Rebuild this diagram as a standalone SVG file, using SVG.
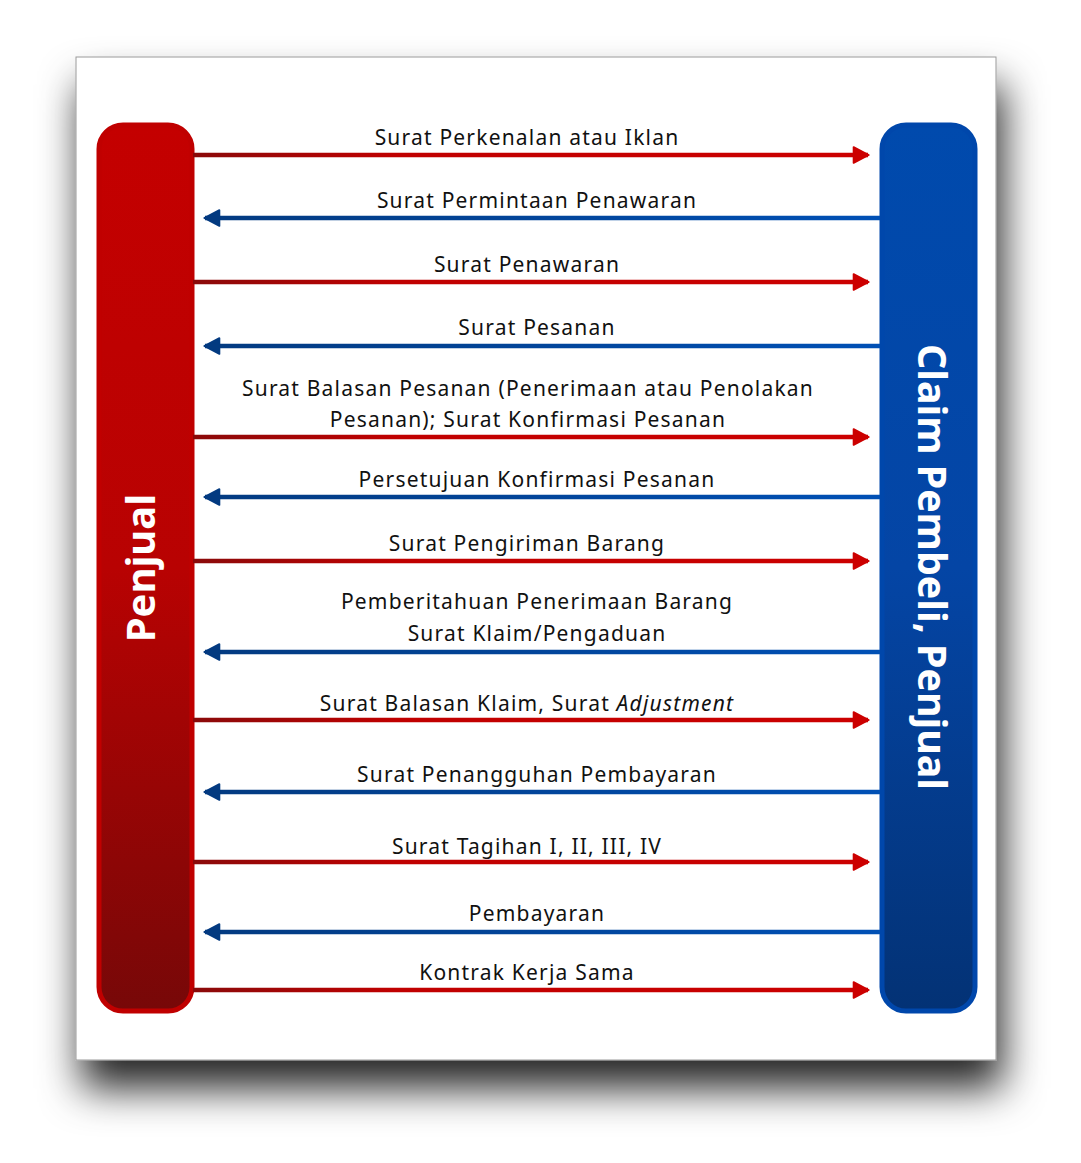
<svg xmlns="http://www.w3.org/2000/svg" width="1081" height="1163" viewBox="0 0 1081 1163">
<defs>
<filter id="pshadow" x="-10%" y="-10%" width="125%" height="125%">
<feDropShadow dx="6" dy="28" stdDeviation="20" flood-color="#000" flood-opacity="0.85"/>
</filter>
<linearGradient id="gRed" x1="0" y1="0" x2="0" y2="1">
<stop offset="0" stop-color="#c40000"/><stop offset="0.5" stop-color="#b80202"/><stop offset="1" stop-color="#770808"/>
</linearGradient>
<linearGradient id="gBlue" x1="0" y1="0" x2="0" y2="1">
<stop offset="0" stop-color="#004aad"/><stop offset="0.5" stop-color="#0445a5"/><stop offset="1" stop-color="#033275"/>
</linearGradient>
<linearGradient id="lRed" gradientUnits="userSpaceOnUse" x1="193" y1="0" x2="870" y2="0">
<stop offset="0" stop-color="#8a0a0a"/><stop offset="0.3" stop-color="#c00000"/><stop offset="1" stop-color="#cc0000"/>
</linearGradient>
<linearGradient id="lBlue" gradientUnits="userSpaceOnUse" x1="203" y1="0" x2="880" y2="0">
<stop offset="0" stop-color="#033a80"/><stop offset="1" stop-color="#0050b5"/>
</linearGradient>
<marker id="hRed" viewBox="0 0 10 10" refX="9" refY="5" markerWidth="4" markerHeight="5" orient="auto" markerUnits="strokeWidth">
<path d="M1,0.6 L9.4,5 L1,9.4 Z" fill="#cc0000" stroke="#cc0000" stroke-width="1" stroke-linejoin="round"/>
</marker>
<marker id="hBlue" viewBox="0 0 10 10" refX="9" refY="5" markerWidth="4" markerHeight="5" orient="auto" markerUnits="strokeWidth">
<path d="M1,0.6 L9.4,5 L1,9.4 Z" fill="#033a80" stroke="#033a80" stroke-width="1" stroke-linejoin="round"/>
</marker>
<style>
.lbl{font-family:"Noto Sans","Liberation Sans",sans-serif;font-size:21px;letter-spacing:1.2px;fill:#111;text-anchor:middle}
.r{stroke:url(#lRed);stroke-width:4.5;fill:none;marker-end:url(#hRed)}
.b{stroke:url(#lBlue);stroke-width:4.5;fill:none;marker-end:url(#hBlue)}
.big{font-family:"Noto Sans","Liberation Sans",sans-serif;font-weight:bold;fill:#fff;text-anchor:middle}
</style>
</defs>
<rect x="76" y="57" width="920" height="1003" fill="#fff" stroke="#999" stroke-width="1" filter="url(#pshadow)"/>
<g id="penjual">
<rect x="99" y="125" width="93" height="886" rx="24" fill="url(#gRed)" stroke="#c00000" stroke-width="5"/>
<text class="big" font-size="40" transform="translate(155,568) rotate(-90)">Penjual</text>
</g>
<g id="pembeli">
<rect x="882" y="125" width="93" height="886" rx="24" fill="url(#gBlue)" stroke="#0047ab" stroke-width="5"/>
<text class="big" font-size="39.3" transform="translate(918,567) rotate(90)">Claim Pembeli, Penjual</text>
</g>
<g id="connectors">
<line class="r" x1="193" y1="155" x2="868" y2="155"/>
<line class="b" x1="880" y1="218" x2="205" y2="218"/>
<line class="r" x1="193" y1="282" x2="868" y2="282"/>
<line class="b" x1="880" y1="346" x2="205" y2="346"/>
<line class="r" x1="193" y1="437" x2="868" y2="437"/>
<line class="b" x1="880" y1="497" x2="205" y2="497"/>
<line class="r" x1="193" y1="561" x2="868" y2="561"/>
<line class="b" x1="880" y1="652" x2="205" y2="652"/>
<line class="r" x1="193" y1="720" x2="868" y2="720"/>
<line class="b" x1="880" y1="792" x2="205" y2="792"/>
<line class="r" x1="193" y1="862" x2="868" y2="862"/>
<line class="b" x1="880" y1="932" x2="205" y2="932"/>
<line class="r" x1="193" y1="990" x2="868" y2="990"/>
</g>
<g id="labels">
<text class="lbl" x="527" y="145">Surat Perkenalan atau Iklan</text>
<text class="lbl" x="537" y="208">Surat Permintaan Penawaran</text>
<text class="lbl" x="527" y="272">Surat Penawaran</text>
<text class="lbl" x="537" y="335">Surat Pesanan</text>
<text class="lbl" x="528" y="396">Surat Balasan Pesanan (Penerimaan atau Penolakan</text>
<text class="lbl" x="528" y="427">Pesanan); Surat Konfirmasi Pesanan</text>
<text class="lbl" x="537" y="487">Persetujuan Konfirmasi Pesanan</text>
<text class="lbl" x="527" y="551">Surat Pengiriman Barang</text>
<text class="lbl" x="537" y="609">Pemberitahuan Penerimaan Barang</text>
<text class="lbl" x="537" y="641">Surat Klaim/Pengaduan</text>
<text class="lbl" x="527" y="711">Surat Balasan Klaim, Surat <tspan font-style="italic">Adjustment</tspan></text>
<text class="lbl" x="537" y="782">Surat Penangguhan Pembayaran</text>
<text class="lbl" x="527" y="854">Surat Tagihan I, II, III, IV</text>
<text class="lbl" x="537" y="921">Pembayaran</text>
<text class="lbl" x="527" y="980">Kontrak Kerja Sama</text>
</g>
</svg>
